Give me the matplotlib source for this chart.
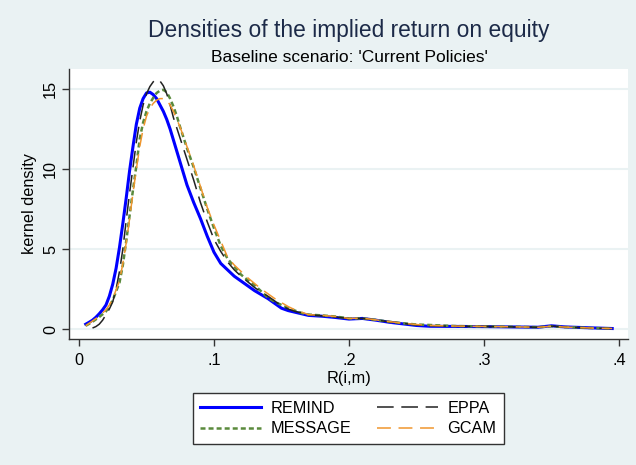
import numpy as np
import matplotlib
matplotlib.use('Agg')
import matplotlib.pyplot as plt

plt.rcParams['font.family'] = ['Liberation Sans', 'DejaVu Sans']
plt.rcParams['lines.scale_dashes'] = False

# --- DATA ---
R_GRID = [.005, .0075, .01, .0125, .015, .0175, .02, .0225, .025, .0275, .03, .0325, .035,
          .0375, .04, .0425, .045, .0475, .05, .0525, .055, .0575, .06, .0625, .065, .0675,
          .07, .0725, .075, .0775, .08, .0825, .085, .0875, .09,
          .095, .10, .105, .11, .115, .12, .125, .13, .135, .14, .145, .15, .155, .16, .165, .17,
          .18, .19, .20, .21, .22, .23, .24, .25, .26, .28, .30, .32, .34, .35, .36, .38, .395]

REMIND = [.30, .42, .55, .73, .95, 1.2, 1.5, 2.05, 2.8, 3.8, 5.1, 6.6, 8.2,
          9.9, 11.4, 12.8, 13.8, 14.4, 14.75, 14.8, 14.65, 14.4, 14.0, 13.6, 13.1, 12.5,
          11.8, 11.1, 10.4, 9.7, 9.0, 8.45, 7.9, 7.4, 6.9,
          5.8, 4.8, 4.1, 3.7, 3.3, 3.0, 2.7, 2.4, 2.15, 1.9, 1.6, 1.3, 1.15, 1.05, .95, .85,
          .80, .72, .62, .66, .55, .42, .32, .22, .17, .16, .15, .13, .11, .20, .13, .07, .03]

EPPA = [np.nan, np.nan, .06, .15, .30, .55, .90, 1.25, 1.7, 2.5, 3.6, 5.0, 6.8,
        8.5, 10.1, 11.7, 13.0, 14.0, 14.7, 15.15, 15.45, 15.6, 15.5, 15.2, 14.7, 14.0,
        13.2, 12.55, 11.9, 11.25, 10.6, 9.95, 9.3, 8.6, 7.9,
        6.7, 5.6, 4.85, 4.2, 3.7, 3.3, 2.95, 2.6, 2.3, 2.05, 1.75, 1.45, 1.25, 1.1, 1.0, .90,
        .82, .75, .65, .66, .56, .45, .35, .25, .20, .17, .16, .13, .11, .18, .12, .06, .03]

MESSAGE = [.20, .32, .45, .60, .75, .92, 1.1, 1.4, 1.8, 2.35, 2.9, 4.0, 5.5,
           7.1, 8.7, 10.2, 11.9, 12.9, 13.6, 14.1, 14.45, 14.75, 14.9, 14.95, 14.8, 14.4,
           13.9, 13.3, 12.6, 11.95, 11.3, 10.7, 10.1, 9.45, 8.8,
           7.5, 6.3, 5.2, 4.4, 3.9, 3.4, 3.05, 2.75, 2.35, 1.95, 1.7, 1.5, 1.3, 1.15, 1.0, .90,
           .85, .78, .66, .66, .57, .45, .36, .28, .25, .18, .16, .14, .11, .17, .12, .06, .03]

GCAM = [.20, .35, .50, .65, .80, 1.0, 1.2, 1.5, 1.9, 2.45, 3.0, 4.1, 5.4,
        6.9, 8.5, 10.0, 11.4, 12.5, 13.3, 13.8, 14.1, 14.3, 14.4, 14.4, 14.3, 14.0,
        13.6, 13.1, 12.6, 12.0, 11.4, 10.8, 10.2, 9.55, 8.9,
        7.6, 6.5, 5.5, 4.5, 4.0, 3.6, 3.2, 2.85, 2.5, 2.2, 1.9, 1.65, 1.4, 1.2, 1.05, .90,
        .85, .78, .66, .68, .57, .46, .36, .28, .22, .18, .16, .14, .11, .17, .12, .06, .03]

X_TICKS = [0, .1, .2, .3, .4]
X_TICK_LABELS = ['0', '.1', '.2', '.3', '.4']
Y_TICKS = [0, 5, 10, 15]

# --- STYLE ---
BG = '#EAF2F3'
FS = 11.7

fig = plt.figure(figsize=(6.36, 4.65), dpi=100, facecolor=BG)
ax = fig.add_axes([69/636, 1 - 339/465, (628-69)/636, (339-69)/465])
ax.set_facecolor('white')

common = dict(solid_joinstyle='round', dash_joinstyle='round')
ax.plot(R_GRID, REMIND, color='#0000FF', lw=2.2, label='REMIND', zorder=3, **common)
ax.plot(R_GRID, MESSAGE, color='#5A8A3C', lw=1.8, dashes=(3.6, 2.2), label='MESSAGE', zorder=4, **common)
ax.plot(R_GRID, EPPA, color='#222222', lw=1.1, dashes=(12, 5.5), label='EPPA', zorder=5, **common)
ax.plot(R_GRID, GCAM, color='#F0962E', lw=1.1, dashes=(10, 5.5), label='GCAM', zorder=6, **common)

ax.set_xlim(-0.0074, 0.4067)
ax.set_ylim(-0.625, 16.25)
ax.set_xticks(X_TICKS)
ax.set_xticklabels(X_TICK_LABELS)
ax.set_yticks(Y_TICKS)
ax.set_yticklabels([str(t) for t in Y_TICKS], rotation=90, va='center')
ax.tick_params(axis='both', labelsize=FS, length=5, width=1, color='#333333')
ax.tick_params(axis='y', pad=3)
ax.tick_params(axis='x', pad=5)

ax.grid(axis='y', color=BG, lw=1.5, zorder=0)
ax.set_axisbelow(True)
for side in ['top', 'right']:
    ax.spines[side].set_visible(False)
for side in ['left', 'bottom']:
    ax.spines[side].set_color('#333333')
    ax.spines[side].set_linewidth(1)

ax.set_xlabel('R(i,m)', fontsize=FS, labelpad=2)
ax.set_ylabel('kernel density', fontsize=FS, labelpad=4)

fig.text(0.5 * (148 + 549) / 636, 1 - 31/465, 'Densities of the implied return on equity',
         ha='center', va='center', fontsize=16.4, color='#1C2A48')
fig.text(0.5 * (211 + 487) / 636, 1 - 57/465, "Baseline scenario: 'Current Policies'",
         ha='center', va='center', fontsize=12.5, color='black')

# ncol=2 fills column-wise: REMIND, MESSAGE | EPPA, GCAM
handles, labels = ax.get_legend_handles_labels()
leg = fig.legend(handles, labels,
                 loc='center', bbox_to_anchor=(348.5/636, 1 - 418.5/465), ncol=2,
                 fontsize=FS, handlelength=3.7, handletextpad=0.62, columnspacing=1.6,
                 labelspacing=0.35, borderpad=0.45, fancybox=False, framealpha=1)
leg.get_frame().set_edgecolor('#333333')
leg.get_frame().set_linewidth(1)

fig.savefig('out.png', dpi=100, facecolor=BG)
